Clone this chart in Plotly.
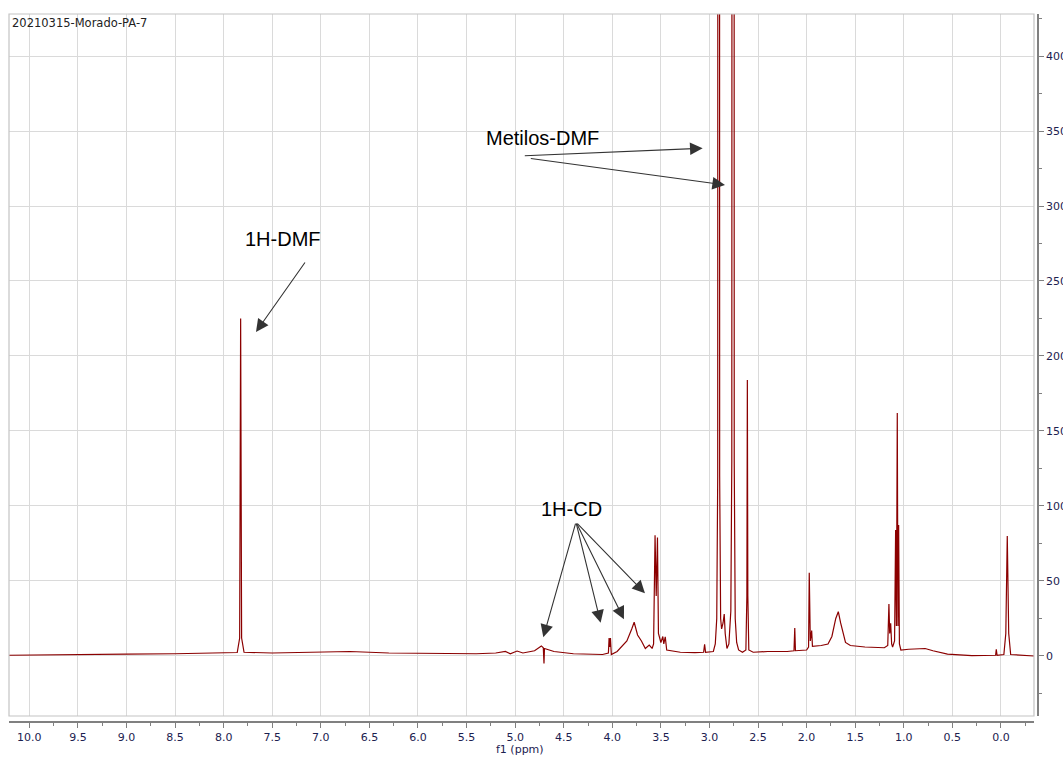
import plotly.graph_objects as go

# ---- data (chemical shift in ppm, intensity) ----
ppm = [10.21, 9.9, 9.5, 9.0, 8.5, 8.0, 7.86, 7.835, 7.825, 7.815, 7.79, 7.5, 7.0, 6.7, 6.3,
       5.8, 5.4, 5.2, 5.10, 5.05, 4.98, 4.92, 4.80, 4.73, 4.71, 4.703, 4.698, 4.6, 4.4,
       4.1, 4.04, 4.033, 4.026, 4.019, 4.01, 3.95, 3.85, 3.80, 3.775, 3.74, 3.70, 3.66,
       3.62, 3.59, 3.575, 3.56, 3.548, 3.535, 3.525, 3.50, 3.48, 3.47, 3.455, 3.44, 3.3,
       3.15, 3.06, 3.05, 3.04, 2.96, 2.94, 2.925, 2.915, 2.905, 2.895, 2.885, 2.875,
       2.86, 2.848, 2.838, 2.82, 2.80, 2.78, 2.77, 2.755, 2.745, 2.735, 2.72, 2.70,
       2.66, 2.625, 2.615, 2.61, 2.605, 2.595, 2.55, 2.4, 2.2, 2.13, 2.122, 2.115,
       2.0, 1.98, 1.973, 1.962, 1.948, 1.94, 1.85, 1.78, 1.74, 1.70, 1.674, 1.65,
       1.60, 1.55, 1.4, 1.2, 1.165, 1.153, 1.145, 1.135, 1.125, 1.115, 1.095, 1.084,
       1.076, 1.067, 1.060, 1.053, 1.045, 1.03, 0.95, 0.85, 0.78, 0.70, 0.55, 0.3,
       0.10, 0.055, 0.048, 0.04, -0.03, -0.05, -0.065, -0.08, -0.10, -0.34]
intensity = [0.5, 0.8, 1.0, 1.3, 1.5, 2.0, 2.3, 12, 225, 12, 2.5, 2.0, 2.5, 3.0, 2.0,
             1.5, 1.5, 2.0, 3.0, 1.5, 3.3, 2.0, 3.5, 6.7, 5.5, -5, 5.0, 3.0, 1.5,
             1.0, 2.0, 12, 6, 12, 1.0, 3.0, 10, 18, 22.5, 14, 10, 5,
             7.3, 5, 8, 80.5, 40, 79, 15, 9, 13, 8, 12.7, 4, 2.5,
             2.2, 2.5, 7.8, 2.5, 3, 8, 25, 120, 4000, 120, 25, 18,
             22, 28, 15, 5, 8, 30, 130, 4000, 130, 25, 9, 4,
             2.5, 4, 40, 184, 40, 4, 2.5, 3, 3, 3.5, 18.7, 3.5,
             4, 6, 55.5, 10, 17, 6.5, 7, 8, 13, 25, 29.5, 22,
             9, 7, 6, 5.5, 7, 34.7, 15, 21.8, 8, 6, 10, 84,
             20, 162, 20, 87.3, 8, 4, 4.5, 4.5, 5, 3.5, 1.3, 0.3,
             0.2, 0.5, 4.5, 0.5, 1, 15, 80, 15, 1, 0]

title_text = "20210315-Morado-PA-7"
x_label = "f1 (ppm)"

x_ticks = [10.0, 9.5, 9.0, 8.5, 8.0, 7.5, 7.0, 6.5, 6.0, 5.5, 5.0, 4.5, 4.0, 3.5, 3.0,
           2.5, 2.0, 1.5, 1.0, 0.5, 0.0]
y_ticks = [0, 50, 100, 150, 200, 250, 300, 350, 400]

# annotations: label, text position, arrow tails and heads (data coordinates)
labels = ["1H-DMF", "Metilos-DMF", "1H-CD"]
label_pos = [(7.386, 278), (4.719, 345.3), (4.415, 98)]
arrow_tail = [(7.152, 263.3), (4.916, 333.5), (4.854, 331.8),
              (4.374, 89.3), (4.374, 89.3), (4.374, 89.3), (4.374, 89.3)]
arrow_head = [(7.667, 216), (3.070, 338.5), (2.840, 314),
              (4.710, 12.5), (4.120, 22.2), (3.880, 24.5), (3.664, 41.8)]

FONT = "DejaVu Sans"
TICKCOL = "#1c2150"

fig = go.Figure()
fig.add_trace(go.Scatter(x=ppm, y=intensity, mode="lines",
                         line=dict(color="#8b0000", width=1.2),
                         hoverinfo="skip", showlegend=False))

for t, (xx, yy) in zip(labels, label_pos):
    fig.add_annotation(x=xx, y=yy, xref="x", yref="y", text=t, showarrow=False,
                       font=dict(family="Liberation Sans", size=20, color="#000000"))

for (tx, ty), (hx, hy) in zip(arrow_tail, arrow_head):
    fig.add_annotation(x=hx, y=hy, ax=tx, ay=ty, xref="x", yref="y",
                       axref="x", ayref="y", text="", showarrow=True,
                       arrowhead=2, arrowsize=2.3, arrowwidth=1.1,
                       arrowcolor="#333333", standoff=0)

fig.add_annotation(x=0.001, y=0.9873, xref="paper", yref="paper", text=title_text,
                   showarrow=False, xanchor="left", yanchor="middle",
                   font=dict(family=FONT, size=11.5, color="#222222"))

# x-axis title, just under the tick labels
fig.add_annotation(x=0.4966, y=-0.0395, xref="paper", yref="paper", text=x_label,
                   showarrow=False, xanchor="center", yanchor="middle",
                   font=dict(family=FONT, size=11, color=TICKCOL))

# plot frame
fig.add_shape(type="rect", xref="x domain", yref="y domain", x0=0, x1=1, y0=0, y1=1,
              line=dict(color="#c4c4c4", width=1.2), fillcolor="rgba(0,0,0,0)", layer="above")

fig.update_layout(
    width=1063, height=758,
    margin=dict(l=9, r=25, t=14, b=36, autoexpand=False),
    paper_bgcolor="white", plot_bgcolor="white",
    showlegend=False,
    xaxis=dict(range=[10.209, -0.34], domain=[0, 0.9961], anchor="free", position=0,
               automargin=False,
               tickvals=x_ticks, ticktext=[f"{v:.1f}" for v in x_ticks],
               showgrid=True, gridcolor="#dadada", gridwidth=1.3,
               zeroline=False, showline=True, linecolor="#808080", linewidth=1.5,
               ticks="outside", ticklen=5, tickcolor="#808080", tickwidth=1,
               minor=dict(dtick=0.25, tick0=0, ticks="outside", ticklen=3,
                          tickcolor="#808080", showgrid=False),
               tickfont=dict(family=FONT, size=11, color=TICKCOL)),
    yaxis=dict(range=[-40, 428], domain=[0.0085, 1], side="right", anchor="free",
               position=1, automargin=False, tickvals=y_ticks,
               showgrid=True, gridcolor="#dadada", gridwidth=1.3,
               zeroline=False, showline=True, linecolor="#808080", linewidth=1.5,
               ticks="outside", ticklen=5, tickcolor="#808080", tickwidth=1,
               minor=dict(dtick=25, tick0=0, ticks="outside", ticklen=3,
                          tickcolor="#808080", showgrid=False),
               tickfont=dict(family=FONT, size=11, color=TICKCOL)),
)

fig.write_html("out.html")
